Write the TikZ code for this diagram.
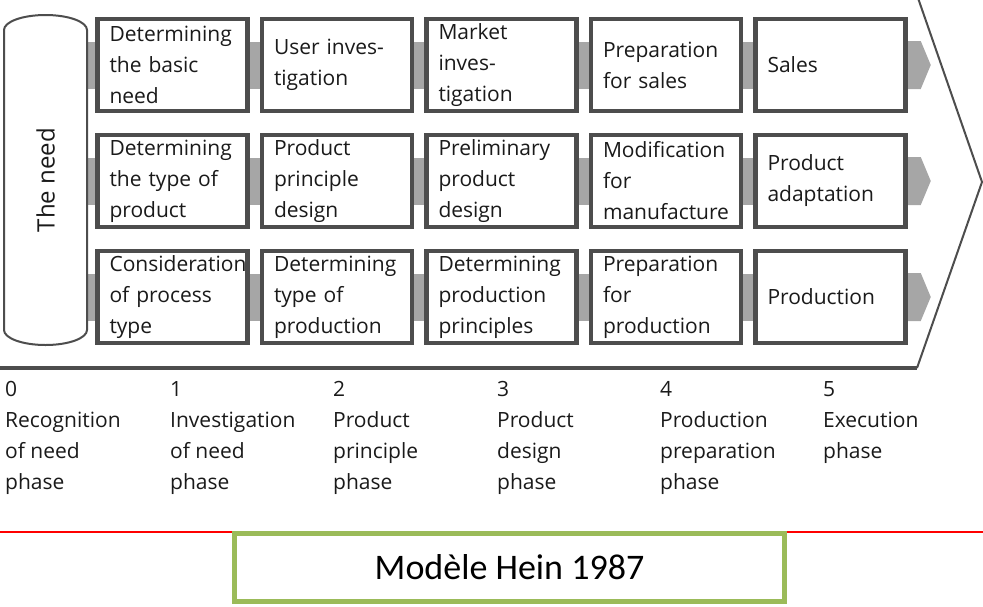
\documentclass[tikz,border=0pt]{standalone}
\usepackage{fontspec}
\setmainfont{Open Sans}
\newfontfamily\titlefont{Carlito}
\usepackage{xcolor}
\usetikzlibrary{positioning,backgrounds}

\definecolor{boxline}{HTML}{4D4D4D}
\definecolor{barfill}{HTML}{A6A6A6}
\definecolor{greenline}{HTML}{9BBB59}
\definecolor{inktext}{HTML}{1A1A1A}

\begin{document}
\begin{tikzpicture}[
  x=1pt, y=-1pt,
  node distance=19.5pt and 10pt,
  stepbox/.style={draw=boxline, line width=4.5pt, fill=white, minimum width=150pt, minimum height=92pt,
    text width=126pt, inner xsep=12pt, inner ysep=0pt, align=left, text=inktext,
    font=\fontsize{21}{31}\selectfont},
  phase/.style={anchor=north west, inner sep=0pt, align=left, text=inktext, font=\fontsize{21}{31}\selectfont},
  bar/.style={draw=barfill, line width=47pt},
  chev/.style={draw=boxline, line width=2pt}
]
\useasboundingbox (0,0) rectangle (983,606);

% the need
\node[rotate=90, text=inktext, font=\fontsize{24}{28}\selectfont] (need) at (45.5,180) {The need};

% sales track
\node[stepbox] (mkt1) at (172.5,65) {Determining\\the basic\\need};
\node[stepbox, right=of mkt1] (mkt2) {User inves-\\tigation};
\node[stepbox, right=of mkt2] (mkt3) {Market\\inves-\\tigation};
\node[stepbox, right=of mkt3] (mkt4) {Preparation\\for sales};
\node[stepbox, right=of mkt4] (mkt5) {Sales};

% product track
\node[stepbox, below=of mkt1] (prod1) {Determining\\the type of\\product};
\node[stepbox, right=of prod1] (prod2) {Product\\principle\\design};
\node[stepbox, right=of prod2] (prod3) {Preliminary\\product\\design};
\node[stepbox, right=of prod3] (prod4) {Modification\\for\\manufacture};
\node[stepbox, right=of prod4] (prod5) {Product\\adaptation};

% production track
\node[stepbox, below=of prod1] (manu1) {Consideration\\of process\\type};
\node[stepbox, right=of manu1] (manu2) {Determining\\type of\\production};
\node[stepbox, right=of manu2] (manu3) {Determining\\production\\principles};
\node[stepbox, right=of manu3] (manu4) {Preparation\\for\\production};
\node[stepbox, right=of manu4] (manu5) {Production};

\begin{scope}[on background layer]
\draw[bar] (need.center |- mkt1) -- (mkt1) -- (mkt2) -- (mkt3) -- (mkt4) -- (mkt5);
\draw[bar] (need.center |- prod1) -- (prod1) -- (prod2) -- (prod3) -- (prod4) -- (prod5);
\draw[bar] (need.center |- manu1) -- (manu1) -- (manu2) -- (manu3) -- (manu4) -- (manu5);
\fill[barfill] (mkt5.east) ++(0,-24) -- ++(13,0) -- ++(10,24) -- ++(-10,24) -- ++(-13,0) -- cycle;
\fill[barfill] (prod5.east) ++(0,-24) -- ++(13,0) -- ++(10,24) -- ++(-10,24) -- ++(-13,0) -- cycle;
\fill[barfill] (manu5.east) ++(0,-24) -- ++(13,0) -- ++(10,24) -- ++(-10,24) -- ++(-13,0) -- cycle;
\end{scope}

% capsule round the need
\begin{scope}[on background layer]
\filldraw[draw=boxline, line width=2pt, fill=white] (4,30) arc[start angle=180, end angle=360, x radius=41.5, y radius=15]
  -- (87,330) arc[start angle=0, end angle=180, x radius=41.5, y radius=15] -- cycle;
\end{scope}

% chevron
\draw[chev] (918,-2) -- (982,182) -- (917,368);
\draw[boxline, line width=4pt] (-2,368) -- (917,368);

% phases
\node[phase] (ph0) at (5,381) {0\\Recognition\\of need\\phase};
\node[phase] (ph1) at (170,381) {1\\Investigation\\of need\\phase};
\node[phase] (ph2) at (333,381) {2\\Product\\principle\\phase};
\node[phase] (ph3) at (497,381) {3\\Product\\design\\phase};
\node[phase] (ph4) at (660,381) {4\\Production\\preparation\\phase};
\node[phase] (ph5) at (823,381) {5\\Execution\\phase};

% caption
\draw[red, line width=2pt] (0,532) -- (983,532);
\node[draw=greenline, line width=5pt, fill=white, minimum width=550pt, minimum height=68pt,
  font=\titlefont\fontsize{36}{40}\selectfont] (title) at (509.5,567.5) {Modèle Hein 1987};
\end{tikzpicture}
\end{document}
